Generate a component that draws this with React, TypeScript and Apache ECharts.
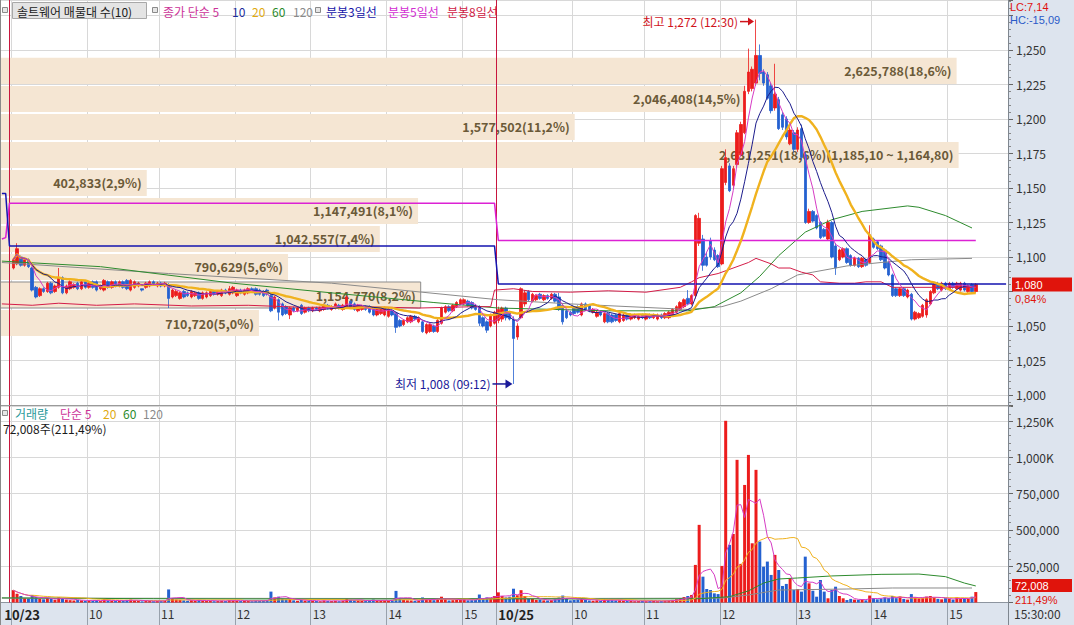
import React, { useEffect, useRef } from "react";
import * as echarts from "echarts";

const FONT = '"Noto Sans CJK KR", "Noto Sans", sans-serif';
const NUMFONT = '"Liberation Sans", "DejaVu Sans", sans-serif';

// ---------- axis structure ----------
const day1HourLabels = ["10/23", "10", "11", "12", "13", "14", "15"];
const day1HourBars = [20, 19, 20, 20, 20, 20, 9];
const day2HourLabels = ["10/25", "10", "11", "12", "13", "14", "15"];
const day2HourBars = [20, 19, 20, 20, 20, 20, 8];
const leadSlots = 3;
const trailSlots = 8;

// ---------- 3-minute candles [open, close, low, high] ----------
const day1Ohlc = [
  [1092, 1098, 1091, 1099], [1095, 1106, 1094, 1110], [1100, 1094, 1093, 1101], [1094, 1098, 1093, 1099],
  [1098, 1093, 1092, 1099], [1092, 1076, 1075, 1093], [1078, 1071, 1070, 1079], [1072, 1077, 1071, 1078],
  [1077, 1075, 1074, 1078], [1075, 1081, 1074, 1082], [1081, 1074, 1073, 1082], [1075, 1079, 1074, 1080],
  [1078, 1085, 1077, 1092], [1085, 1074, 1073, 1086], [1074, 1079, 1073, 1080], [1077, 1082, 1076, 1083],
  [1078, 1080, 1077, 1081], [1081, 1077, 1076, 1082], [1077, 1082, 1076, 1083], [1082, 1078, 1077, 1083],
  [1078, 1081, 1077, 1082], [1082, 1078, 1077, 1083], [1082, 1076, 1075, 1083], [1077, 1079, 1076, 1080],
  [1076, 1083, 1075, 1084], [1082, 1078, 1077, 1083], [1078, 1082, 1077, 1083], [1082, 1079, 1078, 1083],
  [1079, 1082, 1078, 1083], [1082, 1078, 1077, 1083], [1083, 1077, 1076, 1084], [1076, 1083, 1075, 1084],
  [1078, 1082, 1077, 1083], [1079, 1081, 1078, 1082], [1077, 1076, 1075, 1077], [1078, 1081, 1077, 1082],
  [1079, 1082, 1078, 1083], [1082, 1080, 1079, 1083], [1079, 1081, 1078, 1082], [1081, 1079, 1078, 1082],
  [1079, 1081, 1078, 1082], [1080, 1070, 1063, 1081], [1071, 1076, 1070, 1077], [1072, 1075, 1071, 1076],
  [1070, 1074, 1069, 1075], [1075, 1071, 1070, 1076], [1074, 1072, 1071, 1075], [1071, 1075, 1070, 1076],
  [1072, 1074, 1071, 1075], [1074, 1070, 1069, 1075], [1070, 1074, 1069, 1075], [1071, 1074, 1070, 1075],
  [1072, 1075, 1071, 1076], [1075, 1073, 1072, 1076], [1073, 1075, 1072, 1076], [1072, 1076, 1071, 1077],
  [1076, 1074, 1073, 1077], [1073, 1077, 1072, 1079], [1074, 1078, 1073, 1079], [1072, 1076, 1071, 1077],
  [1076, 1074, 1073, 1077], [1073, 1076, 1072, 1077], [1074, 1077, 1073, 1078], [1077, 1075, 1074, 1078],
  [1077, 1073, 1072, 1078], [1076, 1073, 1072, 1077], [1075, 1072, 1071, 1076], [1076, 1073, 1072, 1077],
  [1072, 1061, 1060, 1073], [1063, 1071, 1062, 1072], [1069, 1060, 1054, 1070], [1066, 1058, 1057, 1067],
  [1064, 1059, 1058, 1065], [1058, 1063, 1055, 1064], [1063, 1061, 1060, 1064], [1061, 1063, 1060, 1064],
  [1065, 1059, 1058, 1066], [1060, 1063, 1059, 1064], [1063, 1061, 1060, 1064], [1061, 1063, 1060, 1064],
  [1063, 1062, 1061, 1064], [1061, 1063, 1060, 1064], [1062, 1065, 1061, 1066], [1065, 1063, 1062, 1066],
  [1062, 1064, 1061, 1065], [1063, 1066, 1062, 1067], [1065, 1063, 1062, 1066], [1062, 1065, 1061, 1066],
  [1064, 1071, 1063, 1072], [1068, 1064, 1063, 1069], [1066, 1062, 1061, 1067], [1061, 1065, 1060, 1066],
  [1062, 1064, 1061, 1065], [1064, 1062, 1061, 1065], [1064, 1060, 1059, 1065], [1063, 1058, 1057, 1064],
  [1058, 1062, 1057, 1063], [1059, 1062, 1058, 1063], [1058, 1063, 1057, 1064], [1057, 1062, 1056, 1063],
  [1061, 1058, 1057, 1062], [1059, 1049, 1045, 1060], [1054, 1050, 1049, 1055], [1051, 1054, 1050, 1055],
  [1053, 1056, 1052, 1057], [1053, 1057, 1052, 1058], [1057, 1055, 1054, 1058], [1053, 1056, 1052, 1057],
  [1053, 1046, 1045, 1054], [1045, 1051, 1044, 1052], [1046, 1051, 1045, 1052], [1050, 1046, 1045, 1051],
  [1046, 1054, 1045, 1055], [1052, 1063, 1051, 1064], [1060, 1064, 1059, 1065], [1064, 1061, 1060, 1065],
  [1061, 1065, 1060, 1066], [1064, 1067, 1063, 1068], [1066, 1069, 1065, 1070], [1066, 1069, 1065, 1070],
  [1068, 1065, 1064, 1069], [1067, 1063, 1062, 1068], [1065, 1062, 1061, 1066], [1064, 1052, 1050, 1065],
  [1056, 1050, 1049, 1057], [1053, 1047, 1045, 1054], [1050, 1058, 1049, 1059], [1052, 1060, 1051, 1061],
];

const day2Ohlc = [
  [1054, 1062, 1052, 1064], [1055, 1063, 1053, 1064], [1063, 1056, 1054, 1064], [1060, 1055, 1054, 1061],
  [1055, 1041, 1008, 1057], [1042, 1050, 1040, 1052], [1056, 1077, 1055, 1078], [1066, 1074, 1064, 1076],
  [1075, 1069, 1068, 1076], [1068, 1073, 1067, 1074], [1069, 1072, 1068, 1073], [1073, 1070, 1069, 1074],
  [1069, 1072, 1068, 1073], [1072, 1070, 1069, 1073], [1070, 1073, 1069, 1074], [1073, 1068, 1067, 1074],
  [1071, 1062, 1061, 1074], [1065, 1053, 1051, 1066], [1061, 1056, 1055, 1062], [1060, 1058, 1057, 1061],
  [1063, 1059, 1058, 1064], [1064, 1060, 1059, 1065], [1058, 1066, 1057, 1067], [1066, 1062, 1061, 1067],
  [1065, 1061, 1060, 1066], [1060, 1062, 1059, 1063], [1057, 1060, 1056, 1061], [1060, 1058, 1057, 1061],
  [1053, 1059, 1052, 1060], [1059, 1053, 1052, 1060], [1058, 1053, 1052, 1059], [1058, 1054, 1053, 1059],
  [1053, 1059, 1052, 1060], [1054, 1058, 1053, 1059], [1058, 1055, 1054, 1059], [1055, 1058, 1054, 1059],
  [1056, 1058, 1055, 1059], [1055, 1057, 1054, 1058], [1058, 1056, 1055, 1059], [1055, 1058, 1054, 1059],
  [1058, 1056, 1055, 1059], [1056, 1058, 1055, 1059], [1055, 1058, 1054, 1059], [1058, 1056, 1055, 1059],
  [1056, 1059, 1055, 1060], [1056, 1060, 1055, 1061], [1058, 1062, 1057, 1063], [1060, 1064, 1059, 1065],
  [1062, 1067, 1061, 1068], [1064, 1069, 1063, 1070], [1070, 1066, 1065, 1076], [1066, 1072, 1065, 1073],
  [1072, 1130, 1070, 1131], [1110, 1128, 1108, 1132], [1113, 1094, 1090, 1116], [1100, 1094, 1093, 1103],
  [1112, 1100, 1098, 1114], [1105, 1098, 1097, 1107], [1101, 1093, 1092, 1102], [1095, 1164, 1094, 1166],
  [1154, 1172, 1152, 1178], [1166, 1148, 1147, 1168], [1152, 1164, 1150, 1166], [1167, 1190, 1165, 1192],
  [1174, 1196, 1173, 1198], [1190, 1220, 1189, 1224], [1220, 1234, 1218, 1251], [1222, 1236, 1220, 1238],
  [1226, 1246, 1224, 1272], [1246, 1233, 1228, 1254], [1234, 1226, 1224, 1236], [1232, 1215, 1214, 1234],
  [1224, 1206, 1204, 1226], [1208, 1218, 1206, 1240], [1214, 1193, 1192, 1216], [1203, 1194, 1192, 1205],
  [1200, 1187, 1185, 1202], [1182, 1192, 1181, 1194], [1190, 1178, 1176, 1192], [1178, 1192, 1176, 1194],
  [1193, 1172, 1170, 1196], [1174, 1125, 1124, 1176], [1125, 1133, 1124, 1135], [1133, 1126, 1125, 1134],
  [1130, 1121, 1120, 1131], [1125, 1114, 1113, 1126], [1120, 1115, 1114, 1121], [1113, 1125, 1112, 1127],
  [1125, 1100, 1099, 1126], [1108, 1092, 1087, 1110], [1098, 1105, 1097, 1106], [1100, 1106, 1099, 1107],
  [1106, 1096, 1095, 1107], [1101, 1094, 1093, 1102], [1094, 1099, 1093, 1100], [1099, 1093, 1092, 1100],
  [1093, 1099, 1092, 1100], [1098, 1094, 1093, 1099], [1096, 1116, 1095, 1123], [1113, 1107, 1106, 1114],
  [1111, 1106, 1105, 1112], [1108, 1098, 1097, 1109], [1105, 1092, 1091, 1106], [1096, 1087, 1086, 1097],
  [1087, 1072, 1071, 1088], [1077, 1072, 1071, 1078], [1072, 1077, 1071, 1078], [1077, 1072, 1071, 1078],
  [1071, 1076, 1070, 1077], [1073, 1055, 1054, 1074], [1055, 1060, 1054, 1061], [1056, 1059, 1055, 1060],
  [1057, 1065, 1056, 1066], [1058, 1069, 1056, 1070], [1066, 1075, 1065, 1076], [1074, 1080, 1073, 1081],
  [1081, 1077, 1076, 1082], [1076, 1081, 1075, 1082], [1081, 1077, 1076, 1082], [1077, 1081, 1076, 1082],
  [1081, 1078, 1077, 1082], [1077, 1081, 1076, 1082], [1076, 1081, 1075, 1082], [1081, 1076, 1075, 1082],
  [1075, 1079, 1074, 1080], [1080, 1075, 1074, 1081], [1075, 1080, 1074, 1081],
];

// ---------- volume per bar ----------
const day1Volume = [
  85000, 60000, 45000, 30000, 28000, 52000, 38000, 25000, 22000, 30000,
  24000, 18000, 35000, 28000, 20000, 16000, 14000, 18000, 15000, 12000,
  14000, 11000, 16000, 10000, 22000, 13000, 12000, 10000, 12000, 14000,
  18000, 20000, 15000, 11000, 8000, 10000, 12000, 9000, 11000, 10000,
  12000, 90000, 30000, 20000, 18000, 15000, 12000, 16000, 11000, 18000,
  14000, 10000, 12000, 9000, 11000, 13000, 10000, 16000, 14000, 12000,
  10000, 12000, 11000, 9000, 14000, 12000, 13000, 15000, 75000, 35000,
  40000, 28000, 22000, 25000, 15000, 12000, 18000, 13000, 11000, 12000,
  10000, 9000, 14000, 11000, 10000, 12000, 9000, 13000, 30000, 18000,
  15000, 14000, 11000, 10000, 16000, 20000, 13000, 12000, 14000, 12000,
  18000, 80000, 32000, 18000, 15000, 14000, 12000, 13000, 35000, 22000,
  18000, 16000, 24000, 40000, 25000, 14000, 16000, 18000, 20000, 22000,
  15000, 16000, 18000, 55000, 30000, 35000, 28000, 45000,
];
const day2Volume = [
  70000, 45000, 35000, 40000, 95000, 50000, 85000, 45000, 30000, 25000,
  18000, 20000, 15000, 14000, 16000, 22000, 35000, 48000, 25000, 15000,
  18000, 20000, 28000, 18000, 14000, 12000, 15000, 11000, 20000, 18000,
  16000, 14000, 15000, 12000, 10000, 11000, 9000, 10000, 12000, 9000,
  10000, 11000, 9000, 10000, 12000, 14000, 18000, 22000, 30000, 38000,
  45000, 52000, 259000, 535000, 178000, 93000, 86000, 63000, 58000, 252000,
  1252000, 397000, 472000, 983000, 266000, 810000, 1017000, 408000, 914000, 420000,
  247000, 282000, 190000, 328000, 224000, 114000, 128000, 167000, 86000, 93000,
  75000, 316000, 132000, 81000, 40000, 155000, 75000, 29000, 86000, 109000,
  45000, 29000, 17000, 25000, 20000, 18000, 22000, 15000, 48000, 30000,
  22000, 28000, 35000, 32000, 45000, 30000, 42000, 25000, 20000, 58000,
  35000, 28000, 30000, 40000, 45000, 38000, 25000, 22000, 30000, 25000,
  20000, 35000, 28000, 30000, 25000, 40000, 72008,
];

// ---------- indicator lines: [slot, value] ----------
const priceMa60Pts = [[0, 1097], [26, 1093], [61, 1081], [87, 1074], [114, 1067], [131, 1063], [160, 1061], [181, 1061], [188, 1064], [195, 1074], [200, 1086], [205, 1101], [212, 1118], [219, 1127], [227, 1133], [239, 1137], [242, 1136], [249, 1130], [256, 1121]];
const priceMa120Pts = [[0, 1096], [44, 1088], [87, 1081], [131, 1069], [150, 1066], [181, 1062], [190, 1064], [195, 1068], [203, 1077], [210, 1087], [214, 1089], [223, 1093.5], [232, 1096], [240, 1098], [256, 1099]];
const line3DayPts = [[0, 1146], [1, 1146], [2, 1108], [130, 1108], [131, 1080.5], [265, 1080.5]];
const line5DayPts = [[0, 1113], [1, 1114], [2, 1139], [130, 1139], [131, 1112], [257, 1112]];
const line8DayPts = [[0, 1066], [8, 1065], [15, 1066.5], [25, 1065], [35, 1066], [50, 1064.5], [65, 1065], [80, 1063.5], [95, 1064], [110, 1063], [125, 1064], [129, 1064], [130, 1076], [135, 1077], [140, 1075], [150, 1074.5], [160, 1075.5], [170, 1074.5], [179, 1078], [182, 1082], [184, 1085], [189, 1088], [197, 1096], [199, 1099], [203, 1095], [205, 1092], [208, 1092], [211, 1089], [214, 1087], [216, 1082], [221, 1081], [225, 1081], [228, 1082], [232, 1082], [235, 1078], [240, 1078], [246, 1078], [256, 1078]];
const volMa60Pts = [[0, 32000], [40, 26000], [80, 24000], [131, 25000], [160, 24000], [184, 26000], [192, 40000], [197, 80000], [201, 134000], [205, 162000], [210, 169000], [219, 183000], [232, 194000], [242, 196000], [249, 178000], [254, 134000], [257, 114000]];
const volMa120Pts = [[0, 30000], [131, 27000], [190, 30000], [197, 52000], [205, 86000], [223, 93000], [235, 100000], [256, 100000]];

// ---------- volume profile (매물대) ----------
const profileHigh = [1245, 1224.7, 1204.4, 1184.1, 1163.8, 1143.5, 1123.2, 1102.9, 1082.6, 1062.3];
const profileLow = [1224.7, 1204.4, 1184.1, 1163.8, 1143.5, 1123.2, 1102.9, 1082.6, 1062.3, 1042.0];
const profileVolume = [2625788, 2046408, 1577502, 2631251, 402833, 1147491, 1042557, 790629, 1154770, 710720];
const profilePct = ["18,6", "14,5", "11,2", "18,6", "2,9", "8,1", "7,4", "5,6", "8,2", "5,0"];
const profileRangeNote = "(1,185,10 ~ 1,164,80)";

// ---------- display texts ----------
const highTime = "12:30";
const lowTime = "09:12";
const changePct = "0,84%";
const volRatio = "211,49%";
const lcText = "LC:7,14";
const hcText = "HC:-15,09";
const closeTimeText = "15:30:00";

// ---------- colors ----------
const UP = "#ec1c1c";
const DOWN = "#2461d0";
const GRIDC = "#d8d8d8";
const C_MA5 = "#d63cc4";
const C_MA10 = "#1c1c8c";
const C_MA20 = "#f0b21e";
const C_MA60 = "#2e8b2e";
const C_MA120 = "#8a8a8a";

// ---------- derived ----------
const bars = [...day1Ohlc, ...day2Ohlc];
const volumes = [...day1Volume, ...day2Volume];
const categories: string[] = [];
const hourStartLabel: Record<number, string> = {};
for (let i = 0; i < leadSlots; i++) categories.push("lead" + i);
const pushDay = (labels: string[], counts: number[], date: string) => {
  labels.forEach((lab, h) => {
    hourStartLabel[categories.length] = lab;
    for (let b = 0; b < counts[h]; b++) categories.push(`${date} ${9 + h}:${String(b * 3).padStart(2, "0")}`);
  });
};
pushDay(day1HourLabels, day1HourBars, "10/23");
pushDay(day2HourLabels, day2HourBars, "10/25");
for (let i = 0; i < trailSlots; i++) categories.push("trail" + i);
const dayStarts = [leadSlots, leadSlots + day1Ohlc.length];
const isHourStart = (i: number) => hourStartLabel[i] !== undefined;
const fmt = (v: number) => Math.round(v).toLocaleString("en-US");

const movingAvg = (arr: number[], n: number) =>
  arr.map((_, i) => {
    const s = Math.max(0, i - n + 1);
    let sum = 0;
    for (let k = s; k <= i; k++) sum += arr[k];
    return [leadSlots + i, +(sum / (i - s + 1)).toFixed(2)];
  });

const closes = bars.map((b) => b[1]);
let maxIdx = 0, minIdx = 0;
bars.forEach((b, i) => {
  if (b[3] > bars[maxIdx][3]) maxIdx = i;
  if (b[2] < bars[minIdx][2]) minIdx = i;
});
const lastIdx = bars.length - 1;
const lastClose = closes[lastIdx];
const lastVol = volumes[lastIdx];
const maxProfile = Math.max(...profileVolume);
const maxProfileIdx = profileVolume.indexOf(maxProfile);

const lineSeries = (name: string, data: any[], color: string, width: number, xi = 0, z = 4) => ({
  name, type: "line", xAxisIndex: xi, yAxisIndex: xi, data, showSymbol: false, symbol: "none",
  lineStyle: { color, width }, silent: true, z, animation: false,
});

const txt = (x: number, y: number, text: string, fill: string, size = 12, family = FONT) => ({
  type: "text", x, y, z: 100, style: { text, fill, font: `${size}px ${family}`, verticalAlign: "middle" },
});
const icon = (x: number, y: number) => ({
  type: "rect", z: 100, shape: { x, y, width: 5, height: 5 }, style: { fill: "#e6e6e6", stroke: "#8a8a8a", lineWidth: 1 },
});

const separatorRender = (params: any, api: any) => {
  const shift = params.dataIndex === 0 ? -1.5 : 0.5;
  const x = Math.round(api.coord([api.value(0), 0])[0] - api.size([1, 0])[0] / 2) + shift;
  const cs = params.coordSys;
  return { type: "line", shape: { x1: x, y1: cs.y, x2: x, y2: cs.y + cs.height }, style: { stroke: "#c8163e", lineWidth: 1 } };
};

export default function App() {
  const ref = useRef<HTMLDivElement>(null);
  useEffect(() => {
    if (!ref.current) return;
    const chart = echarts.init(ref.current, undefined, { renderer: "svg" });
    const option: any = {
      animation: false,
      backgroundColor: "#dde4ee",
      grid: [
        { left: 0, top: 0, width: 1008, height: 405, show: true, backgroundColor: "#ffffff", borderWidth: 0 },
        { left: 0, top: 406, width: 1008, height: 196.5, show: true, backgroundColor: "#ffffff", borderWidth: 0 },
      ],
      xAxis: [
        {
          type: "category", gridIndex: 0, data: categories, boundaryGap: true,
          axisLine: { show: false }, axisTick: { show: false }, axisLabel: { show: false },
          splitLine: { show: true, interval: (i: number) => isHourStart(i), lineStyle: { color: GRIDC } },
        },
        {
          type: "category", gridIndex: 1, data: categories, boundaryGap: true,
          axisLine: { show: true, lineStyle: { color: "#8d959f" } },
          axisTick: { show: true, interval: (i: number) => isHourStart(i), length: 23, lineStyle: { color: "#98a1ac" } },
          axisLabel: {
            show: true, interval: (i: number) => isHourStart(i), align: "left", margin: 5,
            formatter: (_v: string, i: number) => {
              const lab = hourStartLabel[i] || "";
              if (i === dayStarts[0]) return `{d0|${lab}}`;
              return lab.includes("/") ? `{d|${lab}}` : `{h|${lab}}`;
            },
            rich: {
              d0: { fontSize: 13, fontWeight: "bold", color: "#222", fontFamily: FONT, padding: [0, 0, 0, -9] },
              d: { fontSize: 13, fontWeight: "bold", color: "#222", fontFamily: FONT },
              h: { fontSize: 12, color: "#333", fontFamily: FONT },
            },
          },
          splitLine: { show: true, interval: (i: number) => isHourStart(i), lineStyle: { color: GRIDC } },
        },
      ],
      yAxis: [
        {
          type: "value", gridIndex: 0, position: "right", min: 992.75, max: 1286.2,
          minInterval: 25, maxInterval: 25, splitNumber: 12,
          axisLine: { show: true, lineStyle: { color: "#7f8790" } },
          axisTick: { show: true, length: 5, lineStyle: { color: "#666" } },
          minorTick: { show: true, splitNumber: 5, length: 3, lineStyle: { color: "#888" } },
          axisLabel: {
            margin: 8, color: "#333", fontSize: 12, fontFamily: FONT,
            // labels hidden behind the current-price tag are not drawn
            formatter: (v: number) =>
              v % 25 === 0 && v >= 1000 && v <= 1250 && Math.abs(v - lastClose) > 12 ? fmt(v) : "",
          },
          splitLine: { show: true, lineStyle: { color: GRIDC } },
        },
        {
          type: "value", gridIndex: 1, position: "right", min: 0, max: 1354000,
          minInterval: 250000, maxInterval: 250000, splitNumber: 5,
          axisLine: { show: true, lineStyle: { color: "#7f8790" } },
          axisTick: { show: true, length: 5, lineStyle: { color: "#666" } },
          minorTick: { show: true, splitNumber: 5, length: 3, lineStyle: { color: "#888" } },
          axisLabel: {
            margin: 8, color: "#333", fontSize: 12, fontFamily: FONT,
            formatter: (v: number) =>
              v === 0 || v % 250000 !== 0 ? "" : v >= 1000000 ? (v / 1000).toLocaleString("en-US") + "K" : v.toLocaleString("en-US"),
          },
          splitLine: { show: true, lineStyle: { color: GRIDC } },
        },
      ],
      series: [
        {
          name: "profile", type: "custom", xAxisIndex: 0, yAxisIndex: 0, z: 1, silent: true, clip: false,
          data: profileHigh.map((h, i) => [0, h, profileLow[i], profileVolume[i]]),
          encode: { x: 0, y: [1, 2] },
          renderItem: (params: any, api: any) => {
            const i = params.dataIndex;
            const cs = params.coordSys;
            const yTop = api.coord([0, profileHigh[i]])[1];
            const yBot = api.coord([0, profileLow[i]])[1];
            const w = (profileVolume[i] / maxProfile) * cs.width * 0.951;
            const highlight = lastClose >= profileLow[i] && lastClose < profileHigh[i];
            const label = `${fmt(profileVolume[i])}(${profilePct[i]}%)` + (i === maxProfileIdx ? profileRangeNote : "");
            return {
              type: "group",
              children: [
                {
                  type: "rect", shape: { x: cs.x, y: yTop + 1, width: w, height: yBot - yTop - 2 },
                  style: { fill: "#f5e6d3", stroke: highlight ? "#8c8c8c" : null, lineWidth: 1 },
                },
                {
                  type: "text", style: {
                    text: label, x: cs.x + w - 5, y: (yTop + yBot) / 2, align: "right", verticalAlign: "middle",
                    fill: "#6b5a38", font: `bold 12.5px ${FONT}`,
                  },
                },
              ],
            };
          },
        },
        {
          name: "daySep0", type: "custom", xAxisIndex: 0, yAxisIndex: 0, z: 2, silent: true, clip: false,
          data: dayStarts.map((d) => [d, 1100]), encode: { x: 0, y: 1 }, renderItem: separatorRender,
        },
        {
          name: "candles", type: "candlestick", xAxisIndex: 0, yAxisIndex: 0, z: 3, barWidth: 3,
          data: bars.map((b, i) => [leadSlots + i, b[0], b[1], b[2], b[3]]),
          encode: { x: 0, y: [1, 2, 3, 4] },
          itemStyle: { color: UP, color0: DOWN, borderColor: UP, borderColor0: DOWN, borderWidth: 0.8 },
        },
        lineSeries("ma120", priceMa120Pts, C_MA120, 1),
        lineSeries("ma60", priceMa60Pts, C_MA60, 1),
        lineSeries("day8", line8DayPts, "#d41c48", 1),
        lineSeries("day5", line5DayPts, "#dc22d4", 1.5),
        lineSeries("day3", line3DayPts, "#1414b0", 1.5),
        lineSeries("ma20", movingAvg(closes, 20), C_MA20, 2.4),
        lineSeries("ma10", movingAvg(closes, 10), C_MA10, 1),
        lineSeries("ma5", movingAvg(closes, 5), C_MA5, 1),
        {
          name: "highNote", type: "custom", xAxisIndex: 0, yAxisIndex: 0, z: 6, silent: true, clip: false,
          data: [[leadSlots + maxIdx, bars[maxIdx][3]]], encode: { x: 0, y: 1 },
          renderItem: (_p: any, api: any) => {
            const [x, y0] = api.coord([api.value(0), api.value(1)]);
            const y = y0 + 2;
            const tip = x - 2;
            return {
              type: "group", children: [
                { type: "text", style: { text: `최고 ${fmt(api.value(1))} (${highTime})`, x: tip - 16, y, align: "right", verticalAlign: "middle", fill: "#d0141c", font: `12px ${FONT}` } },
                { type: "line", shape: { x1: tip - 14, y1: y, x2: tip - 4, y2: y }, style: { stroke: "#d0141c", lineWidth: 1.5 } },
                { type: "polygon", shape: { points: [[tip, y], [tip - 6, y - 4], [tip - 6, y + 4]] }, style: { fill: "#d0141c" } },
              ],
            };
          },
        },
        {
          name: "lowNote", type: "custom", xAxisIndex: 0, yAxisIndex: 0, z: 6, silent: true, clip: false,
          data: [[leadSlots + minIdx, bars[minIdx][2]]], encode: { x: 0, y: 1 },
          renderItem: (_p: any, api: any) => {
            const [x, y] = api.coord([api.value(0), api.value(1)]);
            const tip = x - 1;
            return {
              type: "group", children: [
                { type: "text", style: { text: `최저 ${fmt(api.value(1))} (${lowTime})`, x: tip - 22, y, align: "right", verticalAlign: "middle", fill: "#1a1a9a", font: `12px ${FONT}` } },
                { type: "line", shape: { x1: tip - 20, y1: y, x2: tip - 6, y2: y }, style: { stroke: "#1a1a9a", lineWidth: 1.5 } },
                { type: "polygon", shape: { points: [[tip, y], [tip - 7, y - 4.5], [tip - 7, y + 4.5]] }, style: { fill: "#1a1a9a" } },
              ],
            };
          },
        },
        {
          name: "priceTag", type: "custom", xAxisIndex: 0, yAxisIndex: 0, z: 10, silent: true, clip: false,
          data: [[leadSlots + lastIdx, lastClose]], encode: { x: 0, y: 1 },
          renderItem: (params: any, api: any) => {
            const y = api.coord([api.value(0), api.value(1)])[1];
            const x0 = params.coordSys.x + params.coordSys.width + 4;
            return {
              type: "group", children: [
                { type: "rect", shape: { x: x0, y: y - 7, width: 60, height: 14 }, style: { fill: "#e0140c" } },
                { type: "text", style: { text: fmt(api.value(1)), x: x0 + 3, y, verticalAlign: "middle", fill: "#ffffff", font: `11px ${NUMFONT}` } },
                { type: "text", style: { text: changePct, x: x0 + 3, y: y + 14.5, verticalAlign: "middle", fill: "#e0140c", font: `11px ${NUMFONT}` } },
              ],
            };
          },
        },
        {
          name: "daySep1", type: "custom", xAxisIndex: 1, yAxisIndex: 1, z: 2, silent: true, clip: false,
          data: dayStarts.map((d) => [d, 0]), encode: { x: 0, y: 1 }, renderItem: separatorRender,
        },
        {
          name: "volume", type: "bar", xAxisIndex: 1, yAxisIndex: 1, z: 3, barWidth: 3,
          data: volumes.map((v, i) => ({
            value: [leadSlots + i, v],
            itemStyle: { color: bars[i][1] >= bars[i][0] ? UP : DOWN },
          })),
        },
        lineSeries("vma120", volMa120Pts, C_MA120, 1, 1),
        lineSeries("vma60", volMa60Pts, C_MA60, 1, 1),
        lineSeries("vma20", movingAvg(volumes, 20), C_MA20, 1, 1),
        lineSeries("vma5", movingAvg(volumes, 5), C_MA5, 1, 1),
        {
          name: "volTag", type: "custom", xAxisIndex: 1, yAxisIndex: 1, z: 10, silent: true, clip: false,
          data: [[leadSlots + lastIdx, lastVol]], encode: { x: 0, y: 1 },
          renderItem: (params: any, api: any) => {
            const y = api.coord([api.value(0), api.value(1)])[1];
            const x0 = params.coordSys.x + params.coordSys.width + 4;
            return {
              type: "group", children: [
                { type: "rect", shape: { x: x0, y: y - 13, width: 60, height: 13 }, style: { fill: "#e0140c" } },
                { type: "text", style: { text: fmt(api.value(1)), x: x0 + 3, y: y - 6.5, verticalAlign: "middle", fill: "#ffffff", font: `11px ${NUMFONT}` } },
                { type: "text", style: { text: volRatio, x: x0 + 3, y: y + 7.5, verticalAlign: "middle", fill: "#e0140c", font: `11px ${NUMFONT}` } },
              ],
            };
          },
        },
      ],
      graphic: [
        { type: "line", z: 90, shape: { x1: 1008.5, y1: 0, x2: 1008.5, y2: 625 }, style: { stroke: "#7f8790", lineWidth: 1 } },
        { type: "line", z: 90, shape: { x1: 0, y1: 405.5, x2: 1008, y2: 405.5 }, style: { stroke: "#9a9a9a", lineWidth: 1 } },
        { type: "line", z: 90, shape: { x1: 0.5, y1: 0, x2: 0.5, y2: 625 }, style: { stroke: "#8a8a8a", lineWidth: 1 } },
        icon(2.5, 7.5),
        { type: "rect", z: 99, shape: { x: 12.5, y: 2.5, width: 134, height: 16 }, style: { fill: "#e4e4e4", stroke: "#a8a8a8", lineWidth: 1 } },
        txt(17, 11, "솔트웨어 매물대 수(10)", "#1a1a1a"),
        icon(152.5, 7.5),
        txt(163, 11, "종가 단순 5", "#cc3399"),
        txt(232, 11, "10", "#1c2c9c"),
        txt(252, 11, "20", "#e0aa10"),
        txt(272, 11, "60", "#2a8a2a"),
        txt(293, 11, "120", "#8a8a8a"),
        icon(315.5, 7.5),
        txt(326, 11, "분봉3일선", "#1414a8"),
        txt(388, 11, "분봉5일선", "#d22ed2"),
        txt(447, 11, "분봉8일선", "#d01a44"),
        txt(1010, 7, lcText, "#e01010", 11, NUMFONT),
        txt(1010, 19.5, hcText, "#2a5ac8", 11, NUMFONT),
        icon(2.5, 410.5),
        txt(15, 413, "거래량", "#2a9a9a"),
        txt(60, 413, "단순 5", "#cc3399"),
        txt(103, 413, "20", "#e0aa10"),
        txt(123, 413, "60", "#2a8a2a"),
        txt(143, 413, "120", "#8a8a8a"),
        txt(3, 428, `${fmt(lastVol)}주(${volRatio})`, "#1a1a1a"),
        txt(1014, 613, closeTimeText, "#333333"),
      ],
    };
    chart.setOption(option);
    return () => chart.dispose();
  }, []);
  return <div ref={ref} style={{ position: "fixed", left: 0, top: 0, width: 1074, height: 625 }} />;
}
